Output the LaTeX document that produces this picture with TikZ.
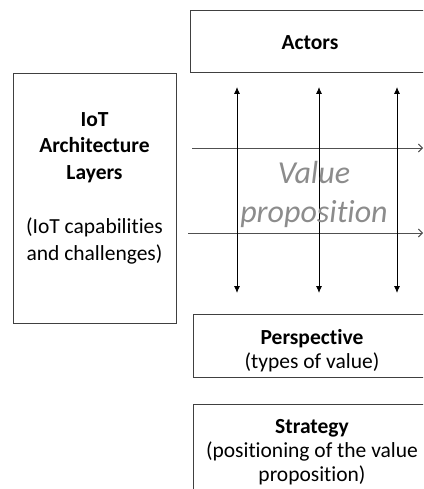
\documentclass[tikz,border=0pt]{standalone}
\usepackage{fontspec}
\setmainfont{Carlito}[Ligatures={NoCommon,NoContextual}]
\usetikzlibrary{arrows.meta}
\definecolor{edge}{HTML}{404040}
\definecolor{vpgray}{HTML}{8C8C8C}
\definecolor{hline}{HTML}{505050}
\tikzset{
  panel/.style={draw=edge, line width=0.9pt, rectangle, inner sep=0pt},
  paneltext/.style={align=center, font=\fontsize{21.5}{24}\selectfont, text=black},
  vflow/.style={line width=0.9pt, black, {Latex[length=7pt,width=6pt]}-{Latex[length=7pt,width=6pt]}},
  hflow/.style={line width=0.9pt, hline, -{Straight Barb[length=4pt,width=8pt]}},
}
\begin{document}
\begin{tikzpicture}[x=1pt,y=1pt]
  \clip (0,0) rectangle (423,-489);
  \useasboundingbox (0,0) rectangle (423,-489);

  % boxes
  \node[panel, minimum width=240, minimum height=62] (actors) at (310,-41) {};
  \node[paneltext, font=\bfseries\fontsize{21.5}{24}\selectfont] (actorstext) at (310,-43) {Actors};

  \node[panel, minimum width=163, minimum height=250] (iot) at (94.5,-198) {};
  \node[paneltext, font=\fontsize{21.5}{26.8}\selectfont] (iottext) at (94.5,-188)
    {\textbf{IoT}\\\textbf{Architecture}\\\textbf{Layers}\\[26.8pt](IoT capabilities\\and challenges)};

  \node[panel, minimum width=238, minimum height=63] (persp) at (312,-345.5) {};
  \node[paneltext] (persptext) at (312,-351) {\textbf{Perspective}\\(types of value)};

  \node[panel, minimum width=238, minimum height=100] (strat) at (312,-454) {};
  \node[paneltext, anchor=north] (strattext) at (312,-416) {\textbf{Strategy}\\(positioning of the value\\proposition)};

  % horizontal flows
  \coordinate (h1a) at (192,-148);
  \coordinate (h1b) at (423,-148);
  \coordinate (h2a) at (188,-233);
  \coordinate (h2b) at (423,-233);
  \draw[hflow] (h1a) -- (h1b);
  \draw[hflow] (h2a) -- (h2b);

  % vertical flows
  \foreach \n/\x in {a/237, b/319, c/397} {
    \coordinate (v\n top) at (\x,-87);
    \coordinate (v\n bot) at (\x,-293);
    \draw[vflow] (v\n top) -- (v\n bot);
  }

  % centre label
  \node[align=center, text=vpgray, font=\itshape\fontsize{32}{39}\selectfont] (vp) at (314,-194)
    {Value\\proposition};
\end{tikzpicture}
\end{document}
